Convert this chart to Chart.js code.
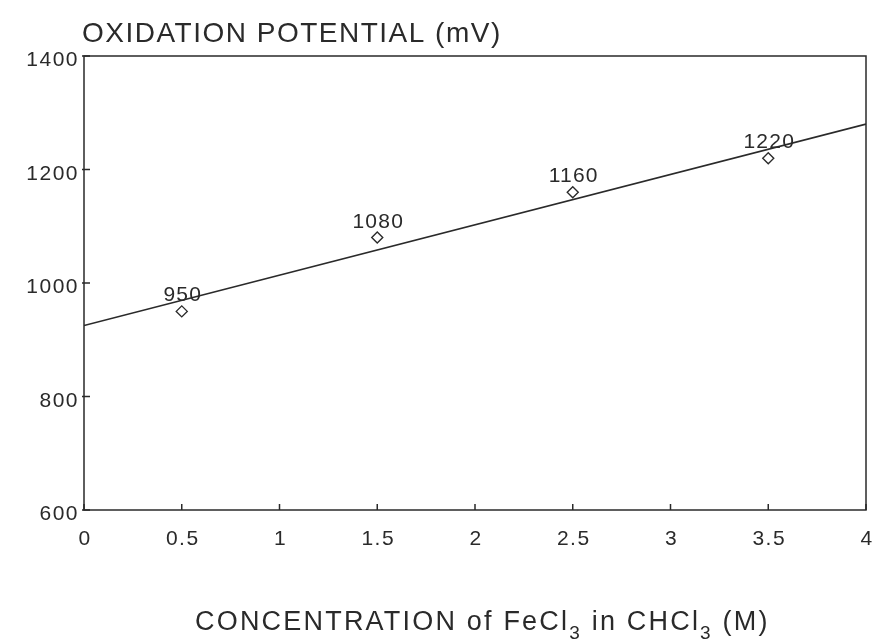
<!DOCTYPE html>
<html>
<head>
<meta charset="utf-8">
<script src="https://cdn.jsdelivr.net/npm/chart.js@4.4.1/dist/chart.umd.min.js"></script>
<style>
  html, body { margin: 0; padding: 0; background: #fff; }
  #wrap { width: 877px; height: 643px; }
</style>
</head>
<body>
<div id="wrap"><canvas id="chart"></canvas></div>
<script>
// Oxidation potential vs FeCl3 concentration — scanned figure redraw

const concentrations = [0.5, 1.5, 2.5, 3.5];      // M
const potentials     = [950, 1080, 1160, 1220];   // mV
const fitX = [0, 4];                              // fitted line ends
const fitY = [925, 1280];
const xTicks = [0, 0.5, 1, 1.5, 2, 2.5, 3, 3.5, 4];
const xTickLabels = ["0", "0.5", "1", "1.5", "2", "2.5", "3", "3.5", "4"];
const yTicks = [600, 800, 1000, 1200, 1400];
const yTickLabels = ["600", "800", "1000", "1200", "1400"];

const INK = "#2a2a2a";
const FONT = '"Liberation Sans", Arial, sans-serif';

// Axes, ticks, labels and titles drawn on top of the chart area
const decor = {
  id: "decor",
  afterDraw(chart) {
    const { ctx, chartArea: a, scales: { x, y } } = chart;
    ctx.save();
    ctx.strokeStyle = INK;
    ctx.fillStyle = INK;
    ctx.lineWidth = 1.5;
    ctx.strokeRect(a.left, a.top, a.right - a.left, a.bottom - a.top);

    // inward tick marks
    ctx.beginPath();
    xTicks.forEach(v => {
      const px = x.getPixelForValue(v);
      ctx.moveTo(px, a.bottom); ctx.lineTo(px, a.bottom - 6);
    });
    yTicks.forEach(v => {
      const py = y.getPixelForValue(v);
      ctx.moveTo(a.left - 2, py); ctx.lineTo(a.left + 6, py);
    });
    ctx.stroke();

    // tick labels
    ctx.font = "21px " + FONT;
    ctx.letterSpacing = "1.5px";
    ctx.textAlign = "center";
    ctx.textBaseline = "alphabetic";
    xTicks.forEach((v, i) => {
      ctx.fillText(xTickLabels[i], x.getPixelForValue(v) + 1, a.bottom + 35);
    });
    ctx.textAlign = "right";
    yTicks.forEach((v, i) => {
      ctx.fillText(yTickLabels[i], a.left - 5, y.getPixelForValue(v) + 10);
    });

    // value labels above each point
    ctx.letterSpacing = "1.2px";
    ctx.textAlign = "center";
    concentrations.forEach((c, i) => {
      ctx.fillText(String(potentials[i]), x.getPixelForValue(c) + 1, y.getPixelForValue(potentials[i]) - 10);
    });

    // y title, top left
    ctx.textAlign = "left";
    ctx.font = "28px " + FONT;
    ctx.letterSpacing = "1.5px";
    ctx.fillText("OXIDATION POTENTIAL (mV)", a.left - 2, 42);

    // x title with subscripts
    const parts = [
      ["CONCENTRATION of FeCl", false], ["3", true],
      [" in CHCl", false], ["3", true], [" (M)", false],
    ];
    const big = "27px " + FONT, small = "19px " + FONT;
    ctx.letterSpacing = "2.2px";
    let cx = 195;
    const base = 630;
    parts.forEach(([t, sub]) => {
      ctx.font = sub ? small : big;
      ctx.fillText(t, cx, sub ? base + 9 : base);
      cx += ctx.measureText(t).width;
    });
    ctx.restore();
  },
};

const hideAxis = s => { s.width = 0; s.height = 0; };

new Chart(document.getElementById("chart"), {
  type: "scatter",
  data: {
    datasets: [
      {
        label: "Measured",
        data: concentrations.map((c, i) => ({ x: c, y: potentials[i] })),
        pointStyle: "rectRot",
        pointRadius: 5.5,
        pointBackgroundColor: "#fff",
        pointBorderColor: INK,
        pointBorderWidth: 1.4,
        showLine: false,
      },
      {
        label: "Fit",
        data: fitX.map((v, i) => ({ x: v, y: fitY[i] })),
        showLine: true,
        pointRadius: 0,
        borderColor: INK,
        borderWidth: 1.6,
      },
    ],
  },
  options: {
    responsive: true,
    maintainAspectRatio: false,
    animation: false,
    layout: { padding: { left: 84, right: 11, top: 56, bottom: 133 } },
    plugins: { legend: { display: false }, tooltip: { enabled: false } },
    scales: {
      x: {
        type: "linear", min: 0, max: 4,
        grid: { display: false }, border: { display: false },
        ticks: { display: false },
        afterFit: hideAxis,
      },
      y: {
        type: "linear", min: 600, max: 1400,
        grid: { display: false }, border: { display: false },
        ticks: { display: false },
        afterFit: hideAxis,
      },
    },
  },
  plugins: [decor],
});
</script>
</body>
</html>
